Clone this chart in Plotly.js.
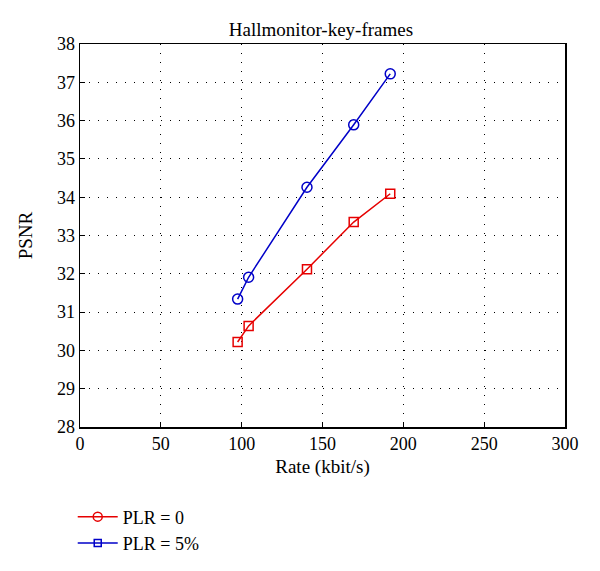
<!DOCTYPE html>
<html>
<head>
<meta charset="utf-8">
<script src="https://cdn.plot.ly/plotly-3.0.1.min.js"></script>
<style>html,body{margin:0;padding:0;background:#fff;}#chart{width:600px;height:571px;}</style>
</head>
<body>
<div id="chart"></div>
<script>
// Data
const rate = [97.5, 104.3, 140.4, 169.3, 191.9];
const psnrPlr0 = [30.22, 30.64, 32.12, 33.35, 34.09];
const psnrPlr5 = [31.34, 31.91, 34.26, 35.89, 37.22];
const seriesNames = ["PLR = 0", "PLR = 5%"];
const xTicks = [0, 50, 100, 150, 200, 250, 300];
const yTicks = [28, 29, 30, 31, 32, 33, 34, 35, 36, 37, 38];

const red = "rgb(230,0,0)";
const blue = "rgb(0,0,200)";
const font = "Liberation Serif, Times New Roman, serif";

const traces = [
  // plotted lines (markers as drawn in the reference)
  {x: rate, y: psnrPlr0, mode: "lines+markers", showlegend: false,
   line: {color: red, width: 1.5},
   marker: {symbol: "square-open", size: 9, color: red, line: {width: 1.5}}},
  {x: rate, y: psnrPlr5, mode: "lines+markers", showlegend: false,
   line: {color: blue, width: 1.5},
   marker: {symbol: "circle-open", size: 10, color: blue, line: {width: 1.5}}},
  // legend entries as shown in the reference
  {x: [null], y: [null], name: seriesNames[0], mode: "lines+markers",
   line: {color: red, width: 1.5},
   marker: {symbol: "circle-open", size: 9, color: red, line: {width: 1.5}}},
  {x: [null], y: [null], name: seriesNames[1], mode: "lines+markers",
   line: {color: blue, width: 1.5},
   marker: {symbol: "square-open", size: 7, color: blue, line: {width: 1.5}}}
];

const axisCommon = {
  showline: true, linecolor: "black", linewidth: 1.5, mirror: true,
  showgrid: true, gridcolor: "black", gridwidth: 1, griddash: "1px,8px",
  zeroline: false, ticks: "inside", ticklen: 5, tickcolor: "black",
  tickfont: {family: font, size: 18, color: "black"}
};

const layout = {
  width: 600, height: 571,
  margin: {l: 79.5, r: 35, t: 44.3, b: 144.3, autoexpand: false},
  paper_bgcolor: "white", plot_bgcolor: "white",
  font: {family: font, color: "black"},
  title: {text: "Hallmonitor-key-frames", font: {family: font, size: 19, color: "black"},
          x: 0.535, xanchor: "center", y: 0.948, yanchor: "middle"},
  xaxis: Object.assign({}, axisCommon, {
    range: [0, 300], tickvals: xTicks, ticktext: xTicks.map(String),
    title: {text: "Rate (kbit/s)", font: {family: font, size: 19, color: "black"}, standoff: 6}
  }),
  yaxis: Object.assign({}, axisCommon, {
    range: [28, 38], tickvals: yTicks, ticktext: yTicks.map(String),
    title: {text: "PSNR", font: {family: font, size: 19, color: "black"}}
  }),
  showlegend: true,
  legend: {x: -0.015, xanchor: "left", y: -0.1865, yanchor: "top",
           font: {family: font, size: 18, color: "black"},
           bgcolor: "rgba(0,0,0,0)", itemwidth: 40, tracegroupgap: 0}
};

Plotly.newPlot("chart", traces, layout, {displayModeBar: false, staticPlot: true});
</script>
</body>
</html>
